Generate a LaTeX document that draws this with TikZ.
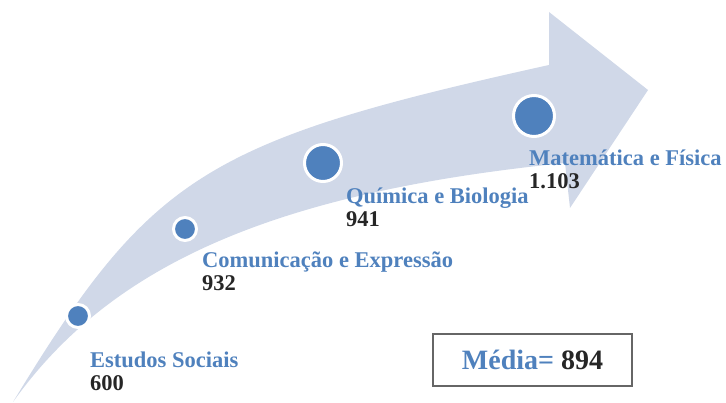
\documentclass[tikz,border=0pt]{standalone}
\usepackage{fontspec}
\setmainfont{Liberation Serif}
\usetikzlibrary{positioning}
\definecolor{bandcol}{HTML}{D0D8E8}
\definecolor{dotcol}{HTML}{4F81BD}
\definecolor{numcol}{HTML}{262626}
\definecolor{boxcol}{HTML}{666666}
\tikzset{
  dot/.style={circle, fill=dotcol, draw=white, line width=3pt, inner sep=0pt, minimum size=#1},
  subj/.style={anchor=base west, inner sep=0pt, text=dotcol, font=\fontsize{22.5}{24}\selectfont\bfseries},
  num/.style={anchor=base west, inner sep=0pt, text=numcol, font=\fontsize{22.5}{24}\selectfont\bfseries},
  mediabox/.style={draw=boxcol, line width=1.2pt, minimum width=199pt, minimum height=52pt, text=numcol, font=\fontsize{28}{30}\selectfont\bfseries}
}
\begin{document}
\begin{tikzpicture}[x=1pt, y=-1pt]
    \useasboundingbox (0,0) rectangle (726,403);
    % curved arrow
    \fill [bandcol] (13,402) .. controls (151,175) and (205,141) .. (549,65)
        -- (549,12) -- (648,90) -- (570,208) -- (565,163)
        .. controls (278,192) and (112,263) .. (13,402) -- cycle;
    % dots along the arrow
    \node [dot=23pt] (d1) at (78,316) {};
    \node [dot=23pt] (d2) at (185,229) {};
    \node [dot=37pt] (d3) at (323,163) {};
    \node [dot=41pt] (d4) at (534,116) {};
    % labels
    \node [subj] (s1) at (90,368) {Estudos Sociais};
    \node [num] (n1) at ([yshift=-23pt]s1.base west) {600};
    \node [subj] (s2) at (202,268) {Comunicação e Expressão};
    \node [num] (n2) at ([yshift=-23pt]s2.base west) {932};
    \node [subj] (s3) at (346,204) {Química e Biologia};
    \node [num] (n3) at ([yshift=-23pt]s3.base west) {941};
    \node [subj] (s4) at (529,166) {Matemática e Física};
    \node [num] (n4) at ([yshift=-23pt]s4.base west) {1.103};
    % average
    \node [mediabox] (media) at (532.5,360) {\textcolor{dotcol}{Média=} 894};
\end{tikzpicture}
\end{document}
